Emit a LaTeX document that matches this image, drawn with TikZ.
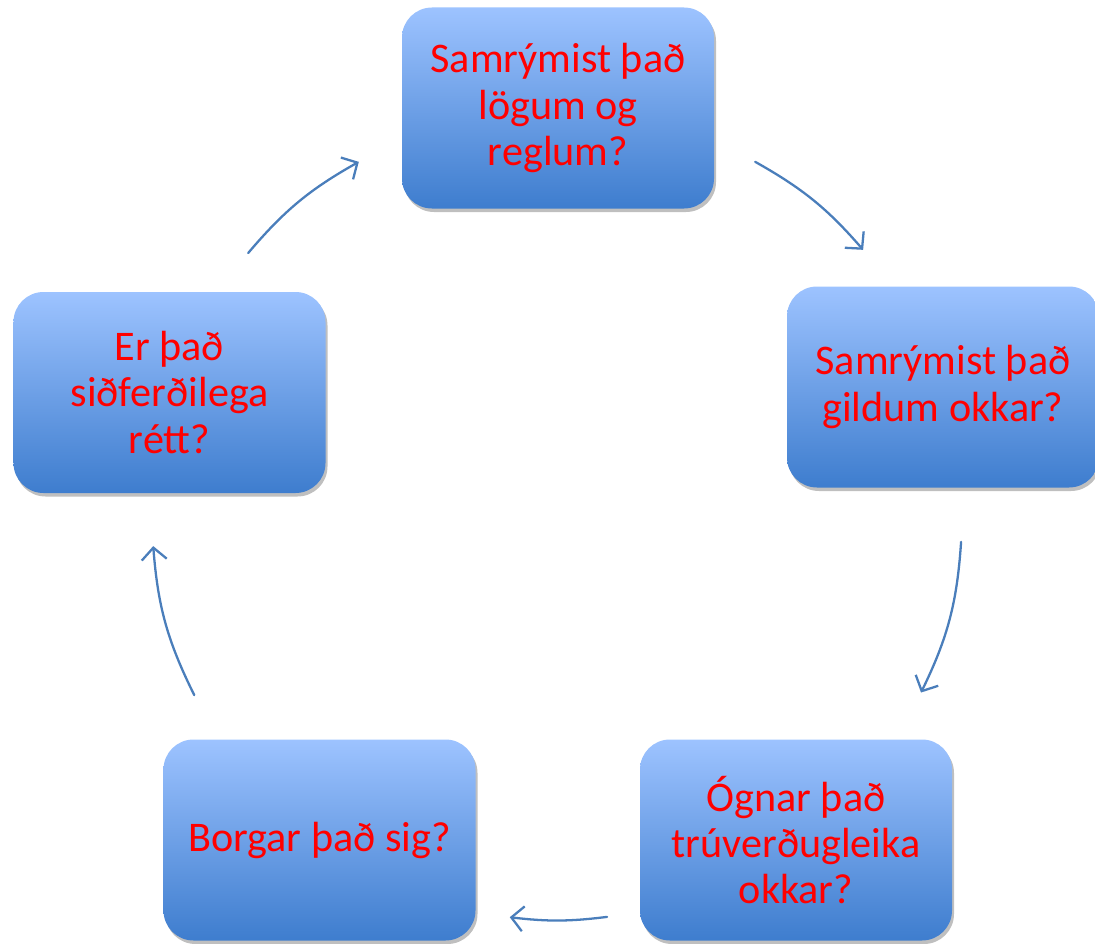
\documentclass[tikz,border=0pt]{standalone}
\usepackage{fontspec}
\setmainfont{Carlito}
\usetikzlibrary{arrows.meta,shadows}
\definecolor{boxtop}{RGB}{157,195,255}
\definecolor{boxbot}{RGB}{62,125,206}
\definecolor{cycblue}{RGB}{74,126,187}
\tikzset{
	qbox/.style={rounded corners=0.6cm, minimum width=6.24cm, minimum height=4.02cm,
		top color=boxtop, bottom color=boxbot, draw=none, text=red, align=center,
		font=\fontsize{24}{26.2}\selectfont,
		drop shadow={shadow xshift=0.04cm, shadow yshift=-0.07cm, opacity=0.25, fill=black}},
	cyc/.style={-{Straight Barb[length=0.24cm,width=0.5cm]}, draw=cycblue, line width=1.3pt}
}
\begin{document}
\begin{tikzpicture}[line join=round, line cap=round]
			\def\cx{11.14} \def\cy{-10.3} \def\rad{8.1} % hringur
			\useasboundingbox (0,0) rectangle (21.9,-18.88);
			\node[qbox] (log) at (11.16,-2.16) {Samrýmist það\\lögum og\\reglum?};
			\node[qbox] (gildi) at (18.86,-7.74) {Samrýmist það\\gildum okkar?};
			\node[qbox] (trun) at (15.92,-16.8) {Ógnar það\\trúverðugleika\\okkar?};
			\node[qbox] (borg) at (6.39,-16.8) {Borgar það sig?};
			\node[qbox] (sidf) at (3.39,-7.85) {Er það\\siðferðilega\\rétt?};
			\foreach \i/\s/\e in {1/60.7/40.9, 2/-3.8/-26, 3/-82.9/-96.7, 4/206.4/184.4, 5/139.7/119.3}{
				\coordinate (s\i) at ([shift={(\cx,\cy)}]\s:\rad);
				\coordinate (e\i) at ([shift={(\cx,\cy)}]\e:\rad);
				\pgfmathsetmacro\bnd{(\s-\e)/2}
				\draw[cyc, bend left=\bnd] (s\i) to (e\i);
			}
	\end{tikzpicture}
\end{document}
